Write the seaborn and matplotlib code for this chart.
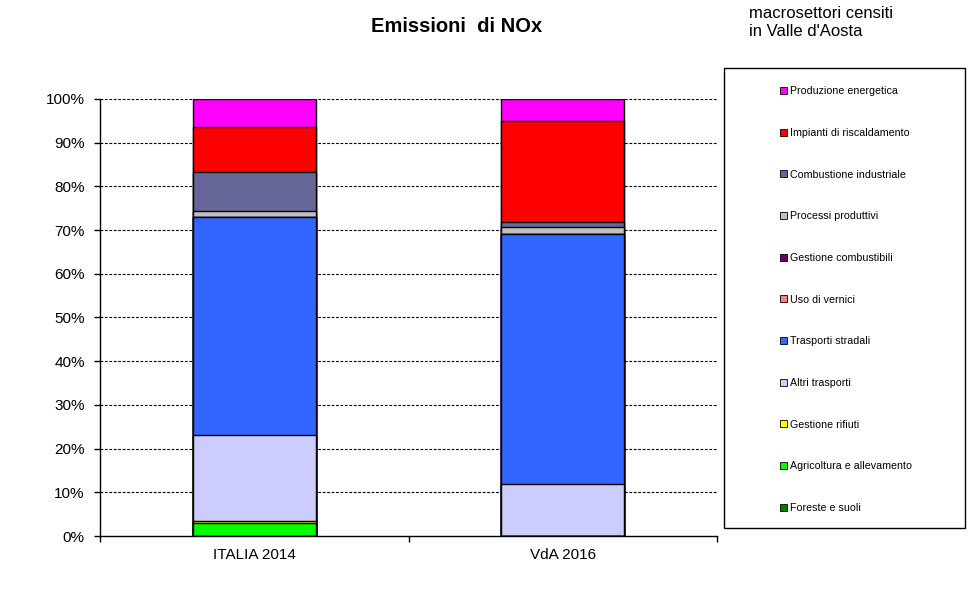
"""
Emissioni di NOx: stacked 100% bars, ITALIA 2014 vs VdA 2016.
"""

import matplotlib.pyplot as plt
import numpy as np
import pandas as pd
import seaborn as sns
from matplotlib.patches import Patch, Rectangle


# categories on the x axis
places = ['ITALIA 2014', 'VdA 2016']

# sectors, legend order (top to bottom)
sectors = ['Produzione energetica', 'Impianti di riscaldamento',
           'Combustione industriale', 'Processi produttivi',
           'Gestione combustibili', 'Uso di vernici', 'Trasporti stradali',
           'Altri trasporti', 'Gestione rifiuti',
           'Agricoltura e allevamento', 'Foreste e suoli']

# shares in percent, same order as sectors
italia_2014 = [6.5, 10.2, 9.0, 1.4, 0.0, 0.0, 49.8, 19.6, 0.5, 3.0, 0.0]
vda_2016 = [5.1, 23.1, 1.1, 1.6, 0.0, 0.0, 57.2, 11.9, 0.0, 0.0, 0.0]

colors = ['#FF00FF', '#FF0000', '#666699', '#C0C0C0', '#660066', '#FF8080',
          '#3366FF', '#CCCCFF', '#FFFF00', '#00FF00', '#008000']


def main():
    sns.set_style('white')
    plt.rcParams['font.family'] = ['Liberation Sans', 'DejaVu Sans']
    plt.rcParams['text.color'] = 'black'
    plt.rcParams['xtick.color'] = 'black'
    plt.rcParams['ytick.color'] = 'black'

    df = pd.DataFrame({'ITALIA 2014': italia_2014, 'VdA 2016': vda_2016},
                      index=sectors)
    # cumulative from the bottom of the stack (last sector) upwards
    cum = df.iloc[::-1].cumsum().iloc[::-1]

    fig = plt.figure(figsize=(9.69, 5.91), dpi=100)
    ax = fig.add_axes([100 / 969, 55 / 591, 617 / 969, 437 / 591])

    # draw tallest cumulative first, smaller ones on top
    for sector, color in zip(sectors, colors):
        sns.barplot(x=places, y=cum.loc[sector].values, color=color,
                    saturation=1, edgecolor='black', linewidth=1.0,
                    width=0.4, ax=ax)

    ax.set_xlim(-0.5, 1.5)
    ax.set_ylim(0, 100)
    ax.set_yticks(np.arange(0, 101, 10))
    ax.set_yticklabels([f'{v}%' for v in range(0, 101, 10)])
    ax.set_xticks([0, 1])
    ax.set_xticklabels(places)
    ax.set_xticks([-0.5, 0.5, 1.5], minor=True)
    ax.tick_params(axis='x', which='major', length=0, pad=8.5, labelsize=11)
    ax.tick_params(axis='x', which='minor', length=4, width=1,
                   direction='out', bottom=True)
    ax.tick_params(axis='y', length=4, width=1, direction='out', left=True,
                   pad=7, labelsize=11)

    for v in range(10, 101, 10):
        ax.axhline(v, color='black', linestyle=(0, (2.5, 1.5)),
                   linewidth=0.8, zorder=0)

    for side in ['top', 'right']:
        ax.spines[side].set_visible(False)
    for side in ['left', 'bottom']:
        ax.spines[side].set_color('black')
        ax.spines[side].set_linewidth(1.0)
    ax.set_xlabel('')
    ax.set_ylabel('')

    fig.text(457 / 969, 1 - 27 / 591, 'Emissioni  di NOx', ha='center',
             va='center', fontsize=14.5, fontweight='bold')
    fig.text(749 / 969, 1 - 6 / 591, "macrosettori censiti\nin Valle d'Aosta",
             ha='left', va='top', fontsize=12, linespacing=1.25)

    # legend box
    fig.patches.append(Rectangle((724 / 969, 1 - 528 / 591), 241 / 969,
                                 460 / 591, transform=fig.transFigure,
                                 facecolor='white', edgecolor='black',
                                 linewidth=1.0))
    handles = [Patch(facecolor=c, edgecolor='black', linewidth=0.6)
               for c in colors]
    fig.legend(handles, sectors, loc='upper left',
               bbox_to_anchor=(775 / 969, 1 - 81 / 591), frameon=False,
               fontsize=7.7, handlelength=0.6, handleheight=0.6,
               handletextpad=0.3, labelspacing=2.96, borderpad=0)

    plt.savefig('out.png', dpi=100)
    plt.close()


if __name__ == '__main__':
    main()
